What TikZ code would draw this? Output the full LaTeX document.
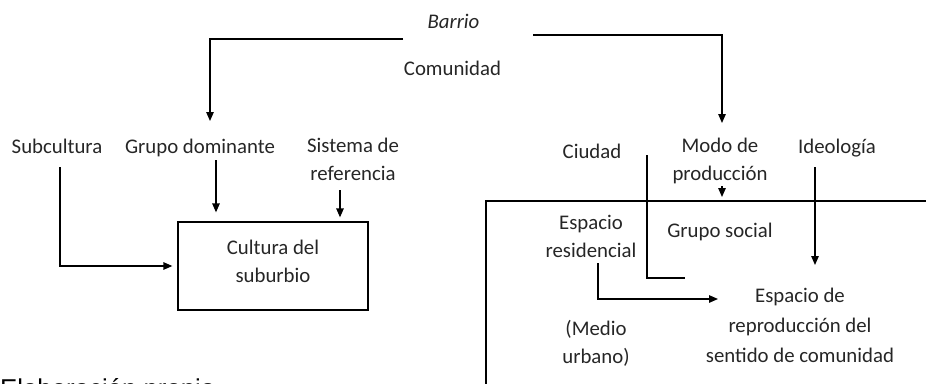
\documentclass[tikz,border=0pt]{standalone}
\usepackage{fontspec}
\setmainfont{Carlito}
\newfontfamily\arialfont{Liberation Sans}
\usetikzlibrary{arrows.meta,calc}
\tikzset{
  lbl/.style={inner sep=0pt, anchor=base, align=center, text=black!85,
    font=\fontsize{20.8}{28}\selectfont},
  arr/.style={line width=1.3pt, -{Triangle[length=9pt,width=7.5pt]}},
  ln/.style={line width=1.3pt},
}
\begin{document}
\begin{tikzpicture}[x=1pt,y=-1pt]
\useasboundingbox (0,0) rectangle (926,383);
% texts (anchor base = baseline of last line)
\node[lbl] (barrio) at (453.5,28) {\itshape Barrio};
\node[lbl] (comunidad) at (452.5,75) {Comunidad};
\node[lbl] (subcultura) at (57,153) {Subcultura};
\node[lbl] (grupo) at (200,153) {Grupo dominante};
\node[lbl] (sistema) at (353,180) {Sistema de\\referencia};
\node[lbl] (ciudad) at (592,158) {Ciudad};
\node[lbl] (modo) at (720,180) {Modo de\\producción};
\node[lbl] (ideologia) at (837,153) {Ideología};
\node[lbl] (espres) at (591,257) {Espacio\\residencial};
\node[lbl] (gsocial) at (720,237) {Grupo social};
\node[lbl, font=\fontsize{20.8}{30}\selectfont] (espacio) at (800,362) {Espacio de\\reproducción del\\sentido de comunidad};
\node[lbl] (medio) at (596,363) {(Medio\\urbano)};
\node[inner sep=0pt, anchor=base west, text=black, font=\arialfont\fontsize{25.8}{30}\selectfont] (elab) at (0,397) {Elaboración propia};
% box
\node[draw, ln, minimum width=190pt, minimum height=88pt, inner sep=0pt, text=black!85,
  font=\fontsize{20.8}{28}\selectfont, align=center] (cultura) at (273,266) {\raisebox{9pt}{Cultura del}\\\raisebox{9pt}{suburbio}};
% big frame
\coordinate (frTL) at (486,201);
\draw[ln] (930,201) -- (frTL) -- (486,390);
% connectors
\coordinate (bl) at (403,39);
\coordinate (bl2) at (210,121);
\draw[arr] (bl) -| (bl2);
\coordinate (br) at (533,35);
\coordinate (br2) at (722,123);
\draw[arr] (br) -| (br2);
\draw[arr, shorten >=5pt] ($(subcultura.base)+(3,14)$) |- (cultura.west);
\coordinate (g1) at (216,160);
\draw[arr, shorten >=9pt] (g1) -- (g1 |- cultura.north);
\coordinate (s1) at (340,190);
\draw[arr, shorten >=4pt] (s1) -- (s1 |- cultura.north);
\coordinate (c1) at (647,155);
\coordinate (c2) at (685,278);
\draw[ln] (c1) |- (c2);
\coordinate (m1) at (722,186);
\draw[arr, shorten >=4pt] (m1) -- (m1 |- frTL);
\coordinate (i1) at (815,167);
\coordinate (i2) at (815,265);
\draw[arr] (i1) -- (i2);
\coordinate (e1) at (598,263);
\coordinate (e2) at (718,299);
\draw[arr] (e1) |- (e2);
\end{tikzpicture}
\end{document}
